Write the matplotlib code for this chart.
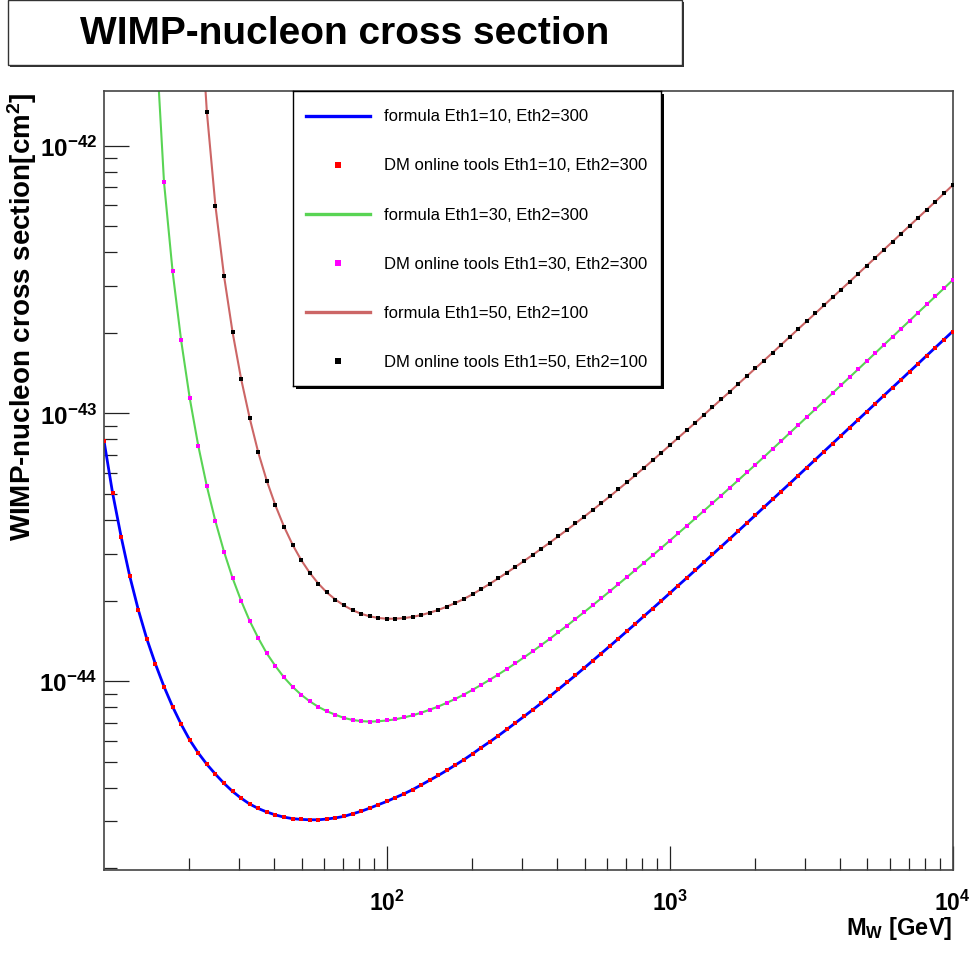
import numpy as np
import matplotlib
matplotlib.use('Agg')
import matplotlib.pyplot as plt
from matplotlib.patches import Rectangle
from matplotlib.lines import Line2D
from matplotlib.ticker import LogLocator, NullFormatter

plt.rcParams.update({'font.family': 'Liberation Sans',
                     'mathtext.fontset': 'custom',
                     'mathtext.rm': 'Liberation Sans',
                     'mathtext.bf': 'Liberation Sans:bold',
                     'mathtext.it': 'Liberation Sans:italic',
                     })

# WIMP mass points [GeV] (the online-tool points sit on this grid)
mass = np.array([
    10.0, 10.72, 11.50, 12.33, 13.22, 14.17, 15.20, 16.30, 17.48, 18.74,
    20.09, 21.54, 23.10, 24.77, 26.56, 28.48, 30.54, 32.75, 35.11, 37.65,
    40.37, 43.29, 46.42, 49.77, 53.37, 57.22, 61.36, 65.79, 70.55, 75.65,
    81.11, 86.98, 93.26,
    100.0, 107.2, 115.0, 123.3, 132.2, 141.7, 152.0, 163.0, 174.8, 187.4,
    200.9, 215.4, 231.0, 247.7, 265.6, 284.8, 305.4, 327.5, 351.1, 376.5,
    403.7, 432.9, 464.2, 497.7, 533.7, 572.2, 613.6, 657.9, 705.5, 756.5,
    811.1, 869.8, 932.6,
    1000, 1072, 1150, 1233, 1322, 1417, 1520, 1630, 1748, 1874,
    2009, 2154, 2310, 2477, 2656, 2848, 3054, 3275, 3511, 3765,
    4037, 4329, 4642, 4977, 5337, 5722, 6136, 6579, 7055, 7565,
    8111, 8698, 9326,
    10000])

# cross sections, units of 1e-45 cm^2
sigma_10_300 = np.array([
    79.1, 50.6, 34.6, 24.7, 18.5, 14.4, 11.6, 9.55, 8.04, 6.91,
    6.04, 5.40, 4.90, 4.50, 4.16, 3.88, 3.66, 3.48, 3.35, 3.25,
    3.17, 3.11, 3.07, 3.05, 3.04, 3.04, 3.06, 3.09, 3.13, 3.20,
    3.27, 3.36, 3.46, 3.56, 3.68, 3.80, 3.94, 4.10, 4.27, 4.45,
    4.65, 4.87, 5.10, 5.36, 5.65, 5.94, 6.26, 6.61, 6.99, 7.39,
    7.82, 8.28, 8.78, 9.32, 9.90, 10.52, 11.19, 11.92, 12.69, 13.52,
    14.41, 15.37, 16.39, 17.51, 18.68, 19.94, 21.31, 22.78, 24.33, 26.01,
    27.82, 29.75, 31.81, 34.02, 36.41, 38.96, 41.71, 44.65, 47.78, 51.13,
    54.72, 58.63, 62.81, 67.29, 72.08, 77.20, 82.70, 88.60, 94.88, 101.6,
    108.9, 116.7, 125.0, 133.8, 143.4, 153.6, 164.6, 176.3, 188.8, 202.2])

# starts at mass[6]
sigma_30_300 = np.array([
    2728, 730.2, 339.0, 187.3,
    114.3, 75.8, 53.5, 39.6, 30.5, 24.3, 19.98, 16.8, 14.5, 12.7,
    11.4, 10.34, 9.54, 8.91, 8.42, 8.03, 7.73, 7.50, 7.30, 7.17,
    7.10, 7.07, 7.09, 7.14, 7.21, 7.33, 7.46, 7.63, 7.83, 8.05,
    8.31, 8.60, 8.92, 9.29, 9.69, 10.13, 10.60, 11.11, 11.67, 12.28,
    12.93, 13.64, 14.40, 15.23, 16.11, 17.08, 18.10, 19.20, 20.39, 21.66,
    23.03, 24.47, 26.04, 27.70, 29.50, 31.41, 33.48, 35.68, 38.05, 40.59,
    43.33, 46.24, 49.36, 52.75, 56.35, 60.21, 64.34, 68.81, 73.67, 78.87,
    84.49, 90.52, 96.94, 103.8, 111.1, 119.1, 127.6, 136.6, 146.4, 156.9,
    168.2, 180.4, 193.3, 207.2, 222.1, 238.2, 255.3, 273.7, 293.2, 314.4])

# starts at mass[11]
sigma_50_100 = np.array([
    4302, 1340, 597.0, 327.0, 201.2, 134.5, 95.96, 71.52, 55.98,
    45.37, 37.82, 32.37, 28.38, 25.42, 23.18, 21.46, 20.19, 19.19, 18.43,
    17.87, 17.48, 17.24, 17.12, 17.13, 17.22, 17.40, 17.67, 18.03, 18.47,
    19.00, 19.61, 20.31, 21.13, 22.08, 23.11, 24.23, 25.44, 26.74, 28.13,
    29.62, 31.22, 32.93, 34.76, 36.73, 38.84, 41.11, 43.55, 46.17, 48.98,
    52.03, 55.29, 58.84, 62.65, 66.76, 71.21, 76.00, 81.14, 86.62, 92.47,
    98.81, 105.6, 112.8, 120.5, 128.9, 137.8, 147.4, 157.6, 168.5, 180.4,
    193.1, 206.7, 221.2, 236.6, 253.3, 271.2, 290.2, 310.6, 332.7, 356.4,
    381.7, 408.9, 438.0, 469.3, 502.7, 538.4, 576.8, 618.3, 662.9, 710.9])

configs = ['Eth1=10, Eth2=300', 'Eth1=30, Eth2=300', 'Eth1=50, Eth2=100']
line_colors = ['#0000ff', '#59d454', '#cc6666']
point_colors = ['#ff0000', '#ff00ff', '#000000']
line_widths = [2.0, 1.5, 1.5]
series = [(mass, sigma_10_300), (mass[6:], sigma_30_300), (mass[11:], sigma_50_100)]

W, H = 974, 954
fig = plt.figure(figsize=(W / 100, H / 100), dpi=100)
ax = fig.add_axes([104 / W, 1 - 871 / H, 848.5 / W, 778.7 / H])

for (m, s), lc, pc, lw in zip(series, line_colors, point_colors, line_widths):
    ax.plot(m, s * 1e-45, color=lc, lw=lw, zorder=2)
    ax.plot(m, s * 1e-45, ls='none', marker='s', ms=3.5, mfc=pc, mec=pc, mew=0, zorder=3)

ax.set_xscale('log')
ax.set_yscale('log')
ax.set_xlim(10, 1e4)
ax.set_ylim(1.974e-45, 1.596e-42)

ax.set_xticks([1e2, 1e3, 1e4], [r'$\mathbf{10^{2}}$', r'$\mathbf{10^{3}}$', r'$\mathbf{10^{4}}$'])
ax.set_yticks([1e-44, 1e-43, 1e-42], [r'$\mathbf{10^{-44}}$', r'$\mathbf{10^{-43}}$', r'$\mathbf{10^{-42}}$'])
ax.xaxis.set_minor_locator(LogLocator(base=10, subs=range(2, 10), numticks=20))
ax.yaxis.set_minor_locator(LogLocator(base=10, subs=range(2, 10), numticks=20))
ax.xaxis.set_minor_formatter(NullFormatter())
ax.yaxis.set_minor_formatter(NullFormatter())

ax.tick_params(which='both', direction='in', top=False, right=False, color='#222222', width=0.9)
ax.tick_params(axis='x', which='major', length=17, labelsize=16.5, pad=14)
ax.tick_params(axis='x', which='minor', length=8.6)
ax.tick_params(axis='y', which='major', length=18, labelsize=17.5, pad=5)
ax.tick_params(axis='y', which='minor', length=9.4)
for sp in ax.spines.values():
    sp.set_color('#444444')
    sp.set_linewidth(1.2)

# axis titles (ROOT style: right / top aligned)
fig.text(39 / W, 1 - 92 / H, r'WIMP-nucleon cross section[cm$^{\mathbf{2}}$]',
         rotation=90, ha='right', va='top', fontsize=20, fontweight='bold')
fig.text(952 / W, 1 - 935 / H, r'M$_{\mathbf{W}}$ [GeV]',
         ha='right', va='baseline', fontsize=17, fontweight='bold')

# title box
fig.patches.append(Rectangle((10 / W, 1 - 68 / H), 674 / W, 65 / H, transform=fig.transFigure,
                             fc='#333333', ec='none', zorder=5))
fig.patches.append(Rectangle((8 / W, 1 - 66 / H), 674 / W, 65 / H, transform=fig.transFigure,
                             fc='white', ec='#333333', lw=1, zorder=6))
fig.text(345 / W, 1 - 34 / H, 'WIMP-nucleon cross section', ha='center', va='center',
         fontsize=28, fontweight='bold', zorder=7)

# legend box with shadow
lx0, ly0, lx1, ly1 = 293, 92.3, 661, 387
fig.patches.append(Rectangle(((lx0 + 3) / W, 1 - (ly1 + 3) / H), (lx1 - lx0) / W, (ly1 - ly0) / H,
                             transform=fig.transFigure, fc='black', ec='none', zorder=5))
lax = fig.add_axes([lx0 / W, 1 - ly1 / H, (lx1 - lx0) / W, (ly1 - ly0) / H], zorder=6)
lax.set_xlim(0, 1)
lax.set_ylim(0, 1)
lax.set_xticks([])
lax.set_yticks([])
for sp in lax.spines.values():
    sp.set_color('black')
    sp.set_linewidth(1.0)

row = 0
for cfg, lc, pc in zip(configs, line_colors, point_colors):
    y = 1 - (row + 0.5) / 6
    lax.add_line(Line2D([0.0345, 0.209], [y, y], color=lc, lw=2.4))
    lax.text(0.248, y, 'formula ' + cfg, va='center', ha='left', fontsize=12)
    y = 1 - (row + 1.5) / 6
    lax.add_line(Line2D([0.1215], [y], ls='none', marker='s', ms=4.0, mfc=pc, mec=pc, mew=0))
    lax.text(0.248, y, 'DM online tools ' + cfg, va='center', ha='left', fontsize=12)
    row += 2

fig.savefig('out.png', dpi=100)
